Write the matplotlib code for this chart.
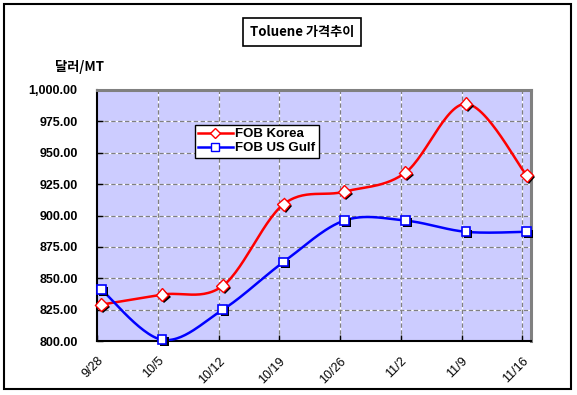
import numpy as np
import pandas as pd
import matplotlib
matplotlib.use('Agg')
import matplotlib.pyplot as plt
import matplotlib.patheffects as pe
from matplotlib.patches import Rectangle

plt.rcParams['font.family'] = ['Noto Sans CJK KR', 'DejaVu Sans']

# Data (weekly, Toluene price $/MT)
dates = ['2007-09-28', '2007-10-05', '2007-10-12', '2007-10-19',
         '2007-10-26', '2007-11-02', '2007-11-09', '2007-11-16']
tick_labels = ['9/28', '10/5', '10/12', '10/19', '10/26', '11/2', '11/9', '11/16']
fob_korea = [829, 837, 844, 909, 919, 934, 989, 932]
fob_usgulf = [841, 801, 825, 863, 896, 896, 887, 887]

d = pd.to_datetime(dates)
days = (d - d[0]).days.values.astype(float)
xpts = days + 0.5  # points sit in the middle of the day slot


def smooth(x, y, n=30):
    # Excel-like smoothed line (cubic bezier, catmull-rom control points)
    x = np.asarray(x, float)
    y = np.asarray(y, float)
    P = np.column_stack([x, y])
    P = np.vstack([P[0], P, P[-1]])
    out = []
    t = np.linspace(0, 1, n)[:, None]
    for i in range(1, len(P) - 2):
        p0, p1, p2, p3 = P[i - 1], P[i], P[i + 1], P[i + 2]
        c1 = p1 + (p2 - p0) / 6
        c2 = p2 - (p3 - p1) / 6
        seg = ((1 - t) ** 3) * p1 + 3 * ((1 - t) ** 2) * t * c1 + 3 * (1 - t) * t ** 2 * c2 + t ** 3 * p2
        out.append(seg if i == 1 else seg[1:])
    out = np.vstack(out)
    return out[:, 0], out[:, 1]


fig = plt.figure(figsize=(5.77, 3.95), dpi=100)
ax = fig.add_axes([97 / 577, 1 - 341 / 395, 434 / 577, 251 / 395])
ax.set_facecolor('#CCCCFF')

ax.set_xlim(0, 50)
ax.set_ylim(800, 1000)
yt = np.arange(800, 1001, 25)
ax.set_yticks(yt)
ax.set_yticklabels([f'{v:,.2f}' for v in yt], fontsize=9, fontweight='bold', family='Liberation Sans')
ax.set_xticks(days)
ax.set_xticklabels(tick_labels, rotation=45, ha='right', va='top', rotation_mode='anchor',
                   fontsize=9, fontfamily='Liberation Sans')

# grid: white base + gray dashes
for v in yt[1:-1]:
    ax.axhline(v, color='white', lw=0.9, zorder=1)
    ax.axhline(v, color='#808080', lw=0.9, ls=(0, (3.5, 2)), zorder=1)
for v in days[1:]:
    ax.axvline(v, color='white', lw=0.9, zorder=1)
    ax.axvline(v, color='#808080', lw=0.9, ls=(0, (3.5, 2)), zorder=1)

ax.tick_params(axis='both', direction='in', length=4, width=1)
ax.tick_params(axis='y', pad=14)
ax.tick_params(axis='x', pad=10)
for s in ['top', 'right']:
    ax.spines[s].set_color('#808080')
    ax.spines[s].set_linewidth(2.2)
for s in ['left', 'bottom']:
    ax.spines[s].set_color('black')
    ax.spines[s].set_linewidth(1.5)

sx, sy = smooth(xpts, fob_korea)
ax.plot(sx, sy, color='red', lw=1.8, zorder=3)
sx, sy = smooth(xpts, fob_usgulf)
ax.plot(sx, sy, color='blue', lw=1.8, zorder=3)

shadow = [pe.SimplePatchShadow(offset=(1.5, -1.5), shadow_rgbFace='black', alpha=1.0), pe.Normal()]
ax.plot(xpts, fob_korea, ls='none', marker='D', ms=6.5, mfc='white', mec='red', mew=1,
        zorder=4, path_effects=shadow, clip_on=False)
ax.plot(xpts, fob_usgulf, ls='none', marker='s', ms=6.3, mfc='white', mec='blue', mew=1.2,
        zorder=4, path_effects=shadow, clip_on=False)

# legend
h1, = ax.plot([], [], color='red', lw=1.8, marker='D', ms=5, mfc='white', mec='red')
h2, = ax.plot([], [], color='blue', lw=1.8, marker='s', ms=6, mfc='white', mec='blue')
leg = ax.legend([h1, h2], ['FOB Korea', 'FOB US Gulf'], loc='upper left',
                bbox_to_anchor=(98 / 434, 0.862), bbox_transform=ax.transAxes,
                prop={'family': 'Liberation Sans', 'weight': 'bold', 'size': 9.5},
                frameon=True, fancybox=False, framealpha=1, edgecolor='black',
                handlelength=2.6, handletextpad=0.2, borderpad=0.25, labelspacing=0.15,
                borderaxespad=0)
leg.get_frame().set_linewidth(1.0)

# title box and unit label
fig.text(302 / 577, 1 - 32 / 395, 'Toluene 가격추이', ha='center', va='center',
         fontsize=9.5, fontweight='bold',
         bbox=dict(boxstyle='square,pad=0.5', fc='white', ec='black', lw=1.2))
fig.text(80 / 577, 1 - 67 / 395, '달러/MT', ha='center', va='center', fontsize=9.5, fontweight='bold')

# outer frame
fig.patches.append(Rectangle((4 / 577, 1 - 389 / 395), 567 / 577, 385 / 395,
                             transform=fig.transFigure, fill=False, ec='black', lw=1.5))

fig.savefig('out.png', dpi=100)
